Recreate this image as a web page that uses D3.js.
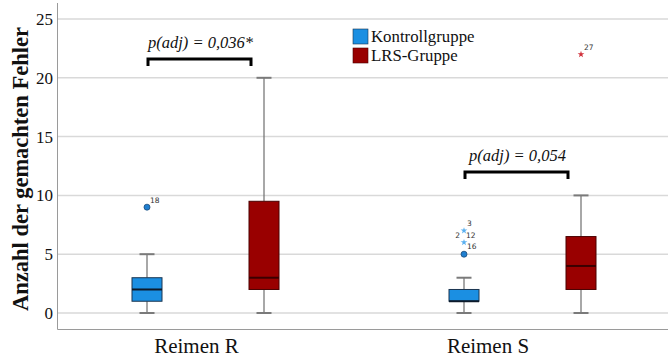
<!DOCTYPE html>
<html><head><meta charset="utf-8">
<script src="https://cdn.jsdelivr.net/npm/d3@7"></script>
<style>body{margin:0;background:#fff}svg{display:block}</style>
</head><body>
<svg id="c" width="668" height="360"></svg>
<script>
const categories = ["Reimen R", "Reimen S"];
const groups = ["Kontrollgruppe", "LRS-Gruppe"];
const yTicks = [0, 5, 10, 15, 20, 25];
// box statistics per category
const kontrollMin = [0, 0];
const kontrollQ1 = [1, 1];
const kontrollMedian = [2, 1];
const kontrollQ3 = [3, 2];
const kontrollMax = [5, 3];
const lrsMin = [0, 0];
const lrsQ1 = [2, 2];
const lrsMedian = [3, 4];
const lrsQ3 = [9.5, 6.5];
const lrsMax = [20, 10];
// outliers: category, group, value, kind, case labels
const outlierCat = ["Reimen R", "Reimen S", "Reimen S", "Reimen S", "Reimen S"];
const outlierGroup = ["Kontrollgruppe", "Kontrollgruppe", "Kontrollgruppe", "Kontrollgruppe", "LRS-Gruppe"];
const outlierValue = [9, 5, 6, 7, 22];
const outlierKind = ["circle", "circle", "star", "star", "star"];
const outlierLabel = ["18", "", "2 12|16", "3", "27"];
const pCats = ["Reimen R", "Reimen S"];
const pTexts = ["p(adj) = 0,036*", "p(adj) = 0,054"];
const pLevels = [21.6, 12.0];

const colors = {"Kontrollgruppe": "#1b8fe2", "LRS-Gruppe": "#990000"};
const strokes = {"Kontrollgruppe": "#1a3550", "LRS-Gruppe": "#4a0000"};
const stats = {
  "Kontrollgruppe": {min: kontrollMin, q1: kontrollQ1, med: kontrollMedian, q3: kontrollQ3, max: kontrollMax},
  "LRS-Gruppe": {min: lrsMin, q1: lrsQ1, med: lrsMedian, q3: lrsQ3, max: lrsMax}
};

const svg = d3.select("#c");
const y = d3.scaleLinear().domain([0, 25]).range([313, 19]);
const x0 = d3.scalePoint().domain(categories).range([205.5, 522.5]);
const x1 = d3.scalePoint().domain(groups).range([-58.5, 58.5]);
const xLabel = d3.scalePoint().domain(categories).range([196.5, 488]);
const boxW = 30, capW = 15;
const serif = "'Liberation Serif','Times New Roman',serif";

// gridlines
svg.append("g").selectAll("line").data(yTicks).join("line")
  .attr("x1", 58).attr("x2", 668).attr("y1", d => y(d)).attr("y2", d => y(d))
  .attr("stroke", "#d9d9d9").attr("stroke-width", 1.5);

// axes lines
svg.append("line").attr("x1", 57.5).attr("x2", 57.5).attr("y1", 3).attr("y2", 329.5)
  .attr("stroke", "#9a9a9a").attr("stroke-width", 1);
svg.append("line").attr("x1", 57.5).attr("x2", 668).attr("y1", 329.5).attr("y2", 329.5)
  .attr("stroke", "#9a9a9a").attr("stroke-width", 1);

// y tick labels
svg.append("g").selectAll("text").data(yTicks).join("text")
  .attr("x", 53).attr("y", d => y(d)).attr("dy", "0.35em")
  .attr("text-anchor", "end").attr("font-family", serif).attr("font-size", 17)
  .attr("fill", "#111").text(d => d);

// y title
svg.append("text").attr("transform", "translate(28,169) rotate(-90)")
  .attr("text-anchor", "middle").attr("font-family", serif).attr("font-weight", "bold")
  .attr("font-size", 22.5).attr("fill", "#111").text("Anzahl der gemachten Fehler");

// x labels
svg.append("g").selectAll("text").data(categories).join("text")
  .attr("x", d => xLabel(d)).attr("y", 353).attr("text-anchor", "middle")
  .attr("font-family", serif).attr("font-size", 21).attr("fill", "#111").text(d => d);

// boxes
const boxData = [];
categories.forEach((c, i) => groups.forEach(g => {
  const s = stats[g];
  boxData.push({c, g, min: s.min[i], q1: s.q1[i], med: s.med[i], q3: s.q3[i], max: s.max[i]});
}));
const bx = d => x0(d.c) + x1(d.g);
const bg = svg.append("g").selectAll("g").data(boxData).join("g");
bg.append("line").attr("x1", bx).attr("x2", bx).attr("y1", d => y(d.min)).attr("y2", d => y(d.q1))
  .attr("stroke", "#6e6e6e").attr("stroke-width", 1.2);
bg.append("line").attr("x1", bx).attr("x2", bx).attr("y1", d => y(d.q3)).attr("y2", d => y(d.max))
  .attr("stroke", "#6e6e6e").attr("stroke-width", 1.2);
bg.append("line").attr("x1", d => bx(d) - capW / 2).attr("x2", d => bx(d) + capW / 2)
  .attr("y1", d => y(d.min)).attr("y2", d => y(d.min)).attr("stroke", "#7a7a7a").attr("stroke-width", 2);
bg.append("line").attr("x1", d => bx(d) - capW / 2).attr("x2", d => bx(d) + capW / 2)
  .attr("y1", d => y(d.max)).attr("y2", d => y(d.max)).attr("stroke", "#7a7a7a").attr("stroke-width", 2);
bg.append("rect").attr("x", d => bx(d) - boxW / 2).attr("width", boxW)
  .attr("y", d => y(d.q3)).attr("height", d => y(d.q1) - y(d.q3))
  .attr("fill", d => colors[d.g]).attr("stroke", d => strokes[d.g]).attr("stroke-width", 1);
bg.append("line").attr("x1", d => bx(d) - boxW / 2).attr("x2", d => bx(d) + boxW / 2)
  .attr("y1", d => y(d.med)).attr("y2", d => y(d.med))
  .attr("stroke", d => d.g === "LRS-Gruppe" ? "#3a0000" : "#0d1a2a").attr("stroke-width", 2);

// outliers
const outliers = outlierValue.map((v, i) => ({c: outlierCat[i], g: outlierGroup[i], v, k: outlierKind[i], l: outlierLabel[i]}));
const og = svg.append("g");
const star = d3.symbol().type(d3.symbolStar).size(14);
outliers.forEach(o => {
  const cx = x0(o.c) + x1(o.g), cy = y(o.v);
  if (o.k === "circle") {
    og.append("circle").attr("cx", cx).attr("cy", cy).attr("r", 3)
      .attr("fill", "#1f7fd0").attr("stroke", "#1a4a78").attr("stroke-width", 0.8);
  } else {
    og.append("path").attr("d", star).attr("transform", `translate(${cx},${cy})`)
      .attr("fill", o.g === "LRS-Gruppe" ? "#d0303a" : "#5ab0f0");
  }
  if (!o.l) return;
  const lab = t => og.append("text").attr("font-family", "'DejaVu Sans',sans-serif")
    .attr("font-size", 7.5).attr("fill", "#333").text(t);
  if (o.l.includes("|")) {
    const [top, bottom] = o.l.split("|");
    const parts = top.split(" ");
    lab(parts[0]).attr("x", cx - 4).attr("y", cy - 4.5).attr("text-anchor", "end");
    lab(parts[1]).attr("x", cx + 2).attr("y", cy - 4.5);
    lab(bottom).attr("x", cx + 3).attr("y", cy + 6.5);
  } else {
    lab(o.l).attr("x", cx + 3).attr("y", cy - 4.5);
  }
});

// significance brackets
pCats.forEach((c, i) => {
  const xa = x0(c) + x1(groups[0]) + 1, xb = x0(c) + x1(groups[1]) - 13;
  const yy = y(pLevels[i]);
  svg.append("path").attr("d", `M${xa},${yy + 7}V${yy}H${xb}V${yy + 7}`)
    .attr("fill", "none").attr("stroke", "#000").attr("stroke-width", 3);
  svg.append("text").attr("x", (xa + xb) / 2 + 1).attr("y", yy - 11).attr("text-anchor", "middle")
    .attr("font-family", serif).attr("font-style", "italic").attr("font-size", 16.5)
    .attr("fill", "#111").text(pTexts[i]);
});

// legend
const lg = svg.append("g").attr("transform", "translate(353,29)");
const li = lg.selectAll("g").data(groups).join("g").attr("transform", (d, i) => `translate(0,${i * 19})`);
li.append("rect").attr("width", 15).attr("height", 15).attr("fill", d => colors[d])
  .attr("stroke", d => strokes[d]).attr("stroke-width", 0.6);
li.append("text").attr("x", 18).attr("y", 13).attr("font-family", serif).attr("font-size", 16.8)
  .attr("fill", "#111").text(d => d);
</script>
</body></html>
